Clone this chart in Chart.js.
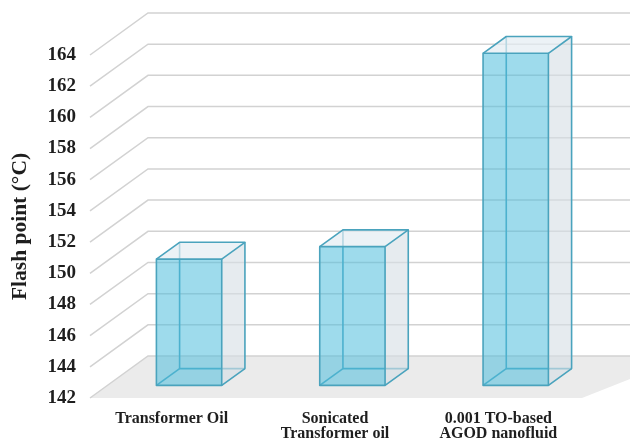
<!DOCTYPE html>
<html>
<head>
<meta charset="utf-8">
<script src="https://cdn.jsdelivr.net/npm/chart.js@4/dist/chart.umd.min.js"></script>
<style>
  html, body { margin: 0; padding: 0; background: #ffffff; }
  #wrap { width: 630px; height: 442px; }
</style>
</head>
<body>
<div id="wrap"><canvas id="c" width="630" height="442"></canvas></div>
<script>
// Samples and their measured flash points (°C)
const categories = [
  ['Transformer Oil'],
  ['Sonicated', 'Transformer oil'],
  ['0.001 TO-based', 'AGOD nanofluid']
];
const flashPoints = [150.1, 150.9, 163.3];
const yMin = 142;
const yMax = 164;
const yStep = 2;
const yTitle = 'Flash point (°C)';

// Perspective offset of the back wall relative to the front plane
const DX = 58, DY = 42;
// Bars sit between these depth fractions of the floor
const F_FRONT = 0.3, F_BACK = 0.7;

const serif = "'Liberation Serif', 'DejaVu Serif', serif";

const box3d = {
  id: 'box3d',
  beforeDatasetsDraw(chart) {
    const { ctx, chartArea: a, scales: { y } } = chart;
    ctx.save();
    // floor
    ctx.fillStyle = '#ebebeb';
    ctx.beginPath();
    ctx.moveTo(a.left, a.bottom);
    ctx.lineTo(a.left + DX, a.bottom - DY);
    ctx.lineTo(chart.width + DX, a.bottom - DY);
    ctx.lineTo(a.right + 2, a.bottom);
    ctx.closePath();
    ctx.fill();
    // side + back wall gridlines
    ctx.strokeStyle = '#d2d2d2';
    ctx.lineWidth = 1.5;
    y.ticks.forEach(t => {
      const py = y.getPixelForValue(t.value);
      ctx.beginPath();
      ctx.moveTo(a.left, py);
      ctx.lineTo(a.left + DX, py - DY);
      ctx.lineTo(chart.width, py - DY);
      ctx.stroke();
    });
    ctx.restore();
  },
  afterDatasetsDraw(chart) {
    const { ctx } = chart;
    const meta = chart.getDatasetMeta(0);
    const edge = '#4aa3bd';
    const ox = (F_BACK - F_FRONT) * DX, oy = (F_BACK - F_FRONT) * DY;
    meta.data.forEach(bar => {
      const { x, y, base, width } = bar.getProps(['x', 'y', 'base', 'width'], true);
      const L = x - width / 2 + F_FRONT * DX;
      const R = L + width;
      const T = y - F_FRONT * DY;
      const B = base - F_FRONT * DY;
      const line = (pts) => {
        ctx.beginPath();
        ctx.moveTo(pts[0][0], pts[0][1]);
        for (let i = 1; i < pts.length; i++) ctx.lineTo(pts[i][0], pts[i][1]);
        ctx.stroke();
      };
      const poly = (pts, fill) => {
        ctx.fillStyle = fill;
        ctx.beginPath();
        ctx.moveTo(pts[0][0], pts[0][1]);
        for (let i = 1; i < pts.length; i++) ctx.lineTo(pts[i][0], pts[i][1]);
        ctx.closePath();
        ctx.fill();
      };
      ctx.save();
      ctx.lineWidth = 1.6;
      ctx.strokeStyle = edge;
      ctx.lineJoin = 'round';
      // hidden edges (seen through the translucent front)
      line([[L + ox, T - oy], [L + ox, B - oy], [R + ox, B - oy]]);
      line([[L, B], [L + ox, B - oy]]);
      // right side face
      poly([[R, T], [R + ox, T - oy], [R + ox, B - oy], [R, B]], 'rgba(214,223,229,0.62)');
      // top face
      poly([[L, T], [L + ox, T - oy], [R + ox, T - oy], [R, T]], 'rgba(228,236,242,0.7)');
      // front face
      poly([[L, T], [R, T], [R, B], [L, B]], 'rgba(78,190,221,0.55)');
      // visible edges
      ctx.strokeRect(L, T, width, B - T);
      line([[L, T], [L + ox, T - oy], [R + ox, T - oy], [R, T]]);
      line([[R + ox, T - oy], [R + ox, B - oy], [R, B]]);
      ctx.restore();
    });
  }
};

new Chart(document.getElementById('c'), {
  type: 'bar',
  data: {
    labels: categories,
    datasets: [{
      data: flashPoints,
      base: yMin,
      backgroundColor: 'rgba(0,0,0,0)',
      borderWidth: 0,
      barPercentage: 0.5,
      categoryPercentage: 0.8
    }]
  },
  options: {
    responsive: false,
    animation: false,
    devicePixelRatio: 1,
    layout: { padding: { top: 55, right: 50, left: 0, bottom: 0 } },
    plugins: { legend: { display: false }, tooltip: { enabled: false } },
    scales: {
      x: {
        grid: { display: false, drawTicks: false },
        border: { display: false },
        ticks: {
          color: '#1e1e1e',
          font: { family: serif, weight: 'bold', size: 16, lineHeight: 0.95 },
          padding: 13,
          maxRotation: 0,
          autoSkip: false
        },
        afterFit(s) { s.height = 44; }
      },
      y: {
        min: yMin,
        max: yMax,
        grid: { display: false, drawTicks: false },
        border: { display: false },
        ticks: {
          stepSize: yStep,
          color: '#1e1e1e',
          font: { family: serif, weight: 'bold', size: 19 },
          padding: 14
        },
        title: {
          display: true,
          text: yTitle,
          color: '#1e1e1e',
          font: { family: serif, weight: 'bold', size: 21.5 },
          padding: { top: 8, bottom: 0 }
        },
        afterFit(s) { s.width = 90; }
      }
    }
  },
  plugins: [box3d]
});
</script>
</body>
</html>
